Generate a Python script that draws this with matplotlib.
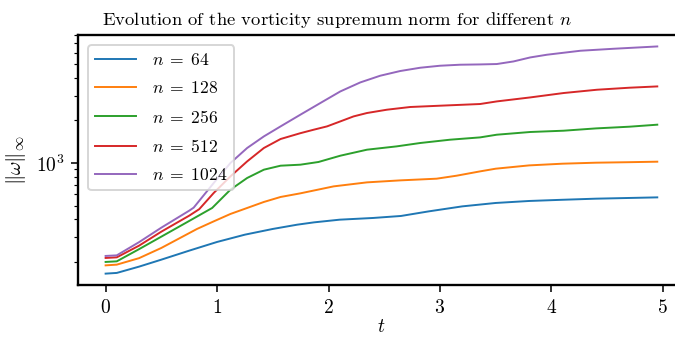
import matplotlib
matplotlib.use("Agg")
from matplotlib import pyplot as plt

plt.rcParams.update({
    "font.family": "serif",
    "font.serif": ["cmr10"],
    "mathtext.fontset": "cm",
    "axes.formatter.use_mathtext": True,
    "font.size": 10,
    "axes.linewidth": 1.2,
    "lines.linewidth": 1.0,
})

# data (t, sup-norm of vorticity)
t_64 = [0.0, 0.1, 0.3, 0.5, 0.75, 1.0, 1.25, 1.5, 1.72, 1.87, 2.1, 2.4, 2.65, 2.9, 3.2, 3.5, 3.8, 4.1, 4.4, 4.7, 4.95]
w_64 = [165.1, 167.0, 185.0, 207.3, 240.0, 276.5, 311.4, 341.7, 366.4, 380.4, 397.4, 408.6, 422.1, 455.0, 493.5,
        521.6, 538.8, 549.5, 559.4, 565.9, 571.4]

t_128 = [0.0, 0.1, 0.3, 0.5, 0.82, 0.97, 1.12, 1.27, 1.42, 1.57, 1.747, 2.046, 2.345, 2.643, 2.97, 3.15, 3.36,
         3.5, 3.8, 4.1, 4.4, 4.7, 4.95]
w_128 = [188.9, 191.1, 212.4, 250.8, 341.7, 386.6, 436.1, 480.8, 530.2, 575.1, 610.0, 683.4, 729.5, 753.5, 774.5,
         813.3, 872.4, 911.3, 961.6, 988.7, 1004.9, 1013.2, 1021.4]

t_256 = [0.0, 0.1, 0.3, 0.5, 0.75, 0.956, 1.12, 1.27, 1.42, 1.57, 1.747, 1.91, 2.106, 2.345, 2.61, 2.823, 3.09,
         3.36, 3.51, 3.81, 4.11, 4.4, 4.7, 4.95]
w_256 = [199.7, 201.7, 245.9, 301.5, 389.2, 480.8, 647.6, 783.4, 896.7, 957.0, 972.7, 1016.5, 1126.0, 1241.7,
         1310.2, 1384.6, 1461.0, 1517.0, 1584.9, 1656.2, 1691.6, 1756.2, 1805.5, 1865.6]

t_512 = [0.0, 0.1, 0.3, 0.5, 0.75, 0.84, 0.97, 1.12, 1.27, 1.42, 1.57, 1.747, 1.867, 1.987, 2.106, 2.225, 2.345,
         2.524, 2.733, 3.0, 3.36, 3.51, 3.81, 4.11, 4.41, 4.7, 4.95]
w_512 = [213.1, 215.2, 260.3, 327.0, 424.2, 471.5, 613.8, 804.1, 1026.4, 1276.4, 1477.7, 1624.0, 1719.0, 1815.0,
         1968.0, 2135.0, 2256.0, 2381.0, 2488.0, 2541.0, 2612.0, 2725.0, 2908.0, 3124.0, 3296.0, 3406.0, 3478.0]

t_1024 = [0.0, 0.1, 0.3, 0.5, 0.75, 0.79, 0.97, 1.12, 1.27, 1.42, 1.57, 1.747, 1.927, 2.106, 2.285, 2.464, 2.643,
          2.823, 3.0, 3.18, 3.36, 3.51, 3.66, 3.81, 3.96, 4.26, 4.56, 4.95]
w_1024 = [220.2, 222.3, 275.6, 349.0, 460.1, 483.2, 722.3, 1000.0, 1276.4, 1541.7, 1814.7, 2194.0, 2655.0, 3206.0,
          3712.0, 4140.0, 4469.0, 4715.0, 4871.0, 4952.0, 4976.0, 5008.0, 5224.0, 5576.0, 5827.0, 6217.0, 6423.0,
          6668.0]

series = [
    (64, t_64, w_64),
    (128, t_128, w_128),
    (256, t_256, w_256),
    (512, t_512, w_512),
    (1024, t_1024, w_1024),
]

fig = plt.figure(figsize=(675 / 140, 340 / 140), dpi=140)
ax = fig.add_axes([0.1156, 0.1618, 0.899, 0.735])

for n, t, w in series:
    ax.plot(t, w, label=rf"$n \;=\; {n}$")

ax.set_yscale("log")
ax.set_xlabel(r"$t$", labelpad=1)
ax.set_ylabel(r"$\|\omega\|_\infty$", fontsize=10.5)
ax.legend(loc="upper left", fontsize=9, labelspacing=0.7, handlelength=2.35,
          handletextpad=0.9, borderaxespad=0.57)
fig.suptitle(r"Evolution of the vorticity supremum norm for different $n$", fontsize=9.6, y=0.97)

fig.savefig("out.png", dpi=140)
